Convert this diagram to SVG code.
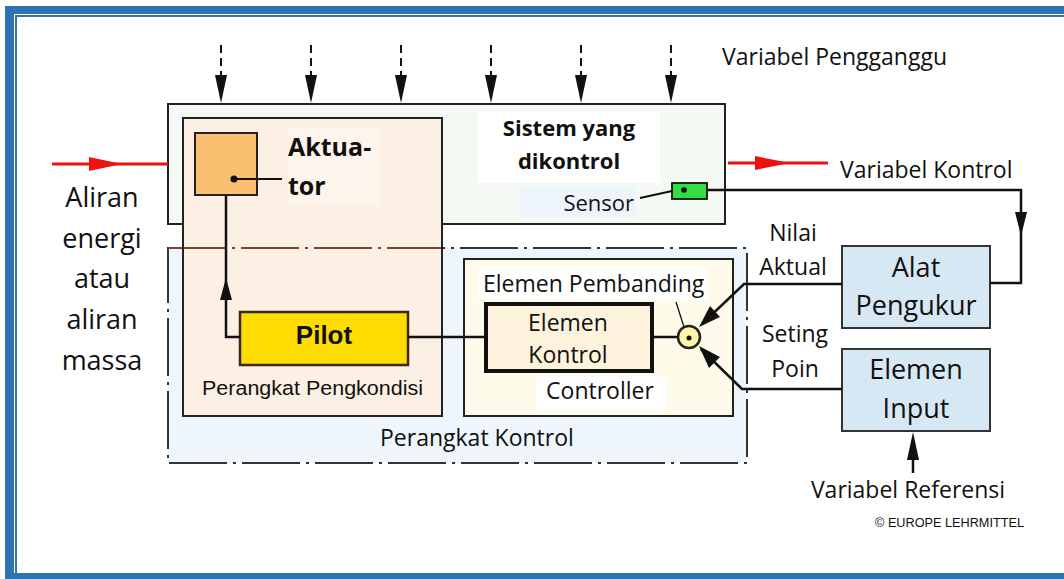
<svg xmlns="http://www.w3.org/2000/svg" width="1064" height="579" viewBox="0 0 1064 579">
<style>
.t{font-family:"Open Sans","Liberation Sans",sans-serif;fill:#111;font-size:23px}
.n{font-family:"Liberation Sans",Arial,sans-serif}
.b{font-weight:bold}
.c{text-anchor:middle}
.s20{font-size:20px}
.s22{font-size:22px}
.s26{font-size:26px}
.s27{font-size:27px}
.box{stroke:#222;stroke-width:2}
.ln{fill:none;stroke:#111;stroke-width:2.5}
.dash{fill:none;stroke:#111;stroke-width:2;stroke-dasharray:8 5}
.dd{fill:none;stroke:#333;stroke-width:2;stroke-dasharray:58 6 3 6}
</style>
<defs>
<path id="arrDown" d="M-6,0 L6,0 L0,28 z" fill="#111"/>
</defs>
<rect x="0" y="0" width="1064" height="579" fill="#fff"/>
<g id="frame" fill="#2e74b5">
<rect x="5" y="6" width="1059" height="8"/>
<rect x="15" y="15" width="1049" height="2"/>
<rect x="5" y="6" width="9" height="573"/>
<rect x="15" y="15" width="2" height="560"/>
<rect x="5" y="573" width="1059" height="6"/>
</g>

<g id="sistem">
<rect class="box" x="168" y="104" width="557" height="120" fill="#f4f9f4"/>
<rect x="478" y="112" width="182" height="71" fill="#fff"/>
<text class="t b c s22" x="569" y="136">Sistem yang</text>
<text class="t b c s22" x="569" y="169">dikontrol</text>
</g>

<g id="perangkat-kontrol">
<rect x="168" y="248" width="579" height="215" fill="#eef6fc"/>
<text class="t" x="380" y="446">Perangkat Kontrol</text>
</g>

<g id="pengkondisi">
<rect class="box" x="183" y="118" width="259" height="298" fill="#fcefe3"/>
<rect x="288" y="128" width="92" height="77" fill="#fdf4ec"/>
<text class="t n s20" x="202" y="395" textLength="221" lengthAdjust="spacingAndGlyphs">Perangkat Pengkondisi</text>
</g>

<path class="dd" d="M168,248 H747 V463 H168 Z"/>
<path d="M168,248 H442" fill="none" stroke="#7a4535" stroke-width="2" stroke-dasharray="58 6 3 6"/>
<rect x="183" y="118" width="259" height="298" fill="none" stroke="#222" stroke-width="2"/>

<g id="aktuator">
<rect class="box" x="195" y="133" width="62" height="62" fill="#fbbf72"/>
<circle cx="234" cy="179" r="3.5" fill="#111"/>
<text class="t b" x="288" y="156" style="font-size:25px">Aktua-</text>
<text class="t b" x="288" y="195" style="font-size:25px">tor</text>
</g>

<g id="pilot">
<rect x="240" y="312" width="168" height="53" fill="#ffdd00" stroke="#3a2a10" stroke-width="2.5"/>
<text class="t n b c s26" x="324" y="344">Pilot</text>
</g>

<g id="controller">
<rect class="box" x="464" y="259" width="269" height="157" fill="#fffbea"/>
<rect x="478" y="268" width="230" height="32" fill="#fff"/>
<text class="t" x="483" y="292">Elemen Pembanding</text>
<rect x="536" y="377" width="131" height="33" fill="#fff"/>
<text class="t c" x="600" y="399">Controller</text>
</g>

<g id="elemen-kontrol">
<rect x="486" y="304" width="166" height="67" fill="#fdf3dc" stroke="#111" stroke-width="4"/>
<text class="t c" x="568" y="331">Elemen</text>
<text class="t c" x="568" y="363">Kontrol</text>
</g>

<g id="komparator">
<circle cx="689" cy="337" r="11" fill="#fdf6a6" stroke="#222" stroke-width="2.5"/>
<circle cx="689" cy="338" r="2.5" fill="#111"/>
</g>

<g id="sensor">
<rect x="520" y="187" width="116" height="30" fill="#eef4fb"/>
<text class="t s22" x="634" y="211" text-anchor="end">Sensor</text>
<rect x="672" y="183" width="35" height="16" fill="#33dd44" stroke="#111" stroke-width="1.8"/>
<circle cx="684" cy="190" r="2.8" fill="#111"/>
</g>

<g id="alat-pengukur">
<rect x="842" y="246" width="148" height="82" fill="#d7e8f5" stroke="#333" stroke-width="2"/>
<text class="t c s27" x="916" y="277">Alat</text>
<text class="t c s27" x="916" y="315">Pengukur</text>
</g>

<g id="elemen-input">
<rect x="842" y="349" width="148" height="82" fill="#d7e8f5" stroke="#333" stroke-width="2"/>
<text class="t c s27" x="916" y="379">Elemen</text>
<text class="t c s27" x="916" y="418">Input</text>
</g>

<g id="labels">
<text class="t" x="722" y="65">Variabel Pengganggu</text>
<text class="t" x="840" y="178">Variabel Kontrol</text>
<text class="t c" x="793" y="241">Nilai</text>
<text class="t c" x="793" y="275">Aktual</text>
<text class="t c" x="795" y="342">Seting</text>
<text class="t c" x="795" y="377">Poin</text>
<text class="t c" x="908" y="498">Variabel Referensi</text>
<text class="t n" x="875" y="527" style="font-size:12px" textLength="149" lengthAdjust="spacingAndGlyphs">© EUROPE LEHRMITTEL</text>
<text class="t c s27" x="102" y="207">Aliran</text>
<text class="t c s27" x="102" y="248">energi</text>
<text class="t c s27" x="102" y="288">atau</text>
<text class="t c s27" x="102" y="329">aliran</text>
<text class="t c s27" x="102" y="370">massa</text>
</g>

<g id="connectors">
<path class="dash" d="M221,45 V76 M311,45 V76 M401,45 V76 M491,45 V76 M581,45 V76 M671,45 V76"/>
<use href="#arrDown" x="221" y="75"/>
<use href="#arrDown" x="311" y="75"/>
<use href="#arrDown" x="401" y="75"/>
<use href="#arrDown" x="491" y="75"/>
<use href="#arrDown" x="581" y="75"/>
<use href="#arrDown" x="671" y="75"/>
<path d="M52,164 H168" stroke="#ee1111" stroke-width="3" fill="none"/>
<path d="M89,157 L122,164 L89,171 z" fill="#ee1111"/>
<path d="M728,163 H828" stroke="#ee1111" stroke-width="3" fill="none"/>
<path d="M755,156 L790,163 L755,170 z" fill="#ee1111"/>
<path d="M234,179 H282" stroke="#111" stroke-width="2" fill="none"/>
<path class="ln" d="M240,337 H226 V195"/>
<path d="M220,300 L226,278 L232,300 z" fill="#111"/>
<path class="ln" d="M408,337 H486"/>
<path class="ln" d="M652,337 H678"/>
<path d="M676,302 L684,327" stroke="#111" stroke-width="1.3" fill="none"/>
<path d="M640,198 L672,191" stroke="#111" stroke-width="1.8" fill="none"/>
<path class="ln" d="M707,190 H1021 V283 H990"/>
<path d="M1015,212 L1027,212 L1021,236 z" fill="#111"/>
<path class="ln" d="M842,284 H744 L702,324"/>
<path d="M699,327 L710,306 L720,317 z" fill="#111"/>
<path class="ln" d="M842,389 H742 L701,349"/>
<path d="M699,346 L720,357 L709,368 z" fill="#111"/>
<path class="ln" d="M913,473 V440"/>
<path d="M907,460 L913,432 L919,460 z" fill="#111"/>
</g>
</svg>
